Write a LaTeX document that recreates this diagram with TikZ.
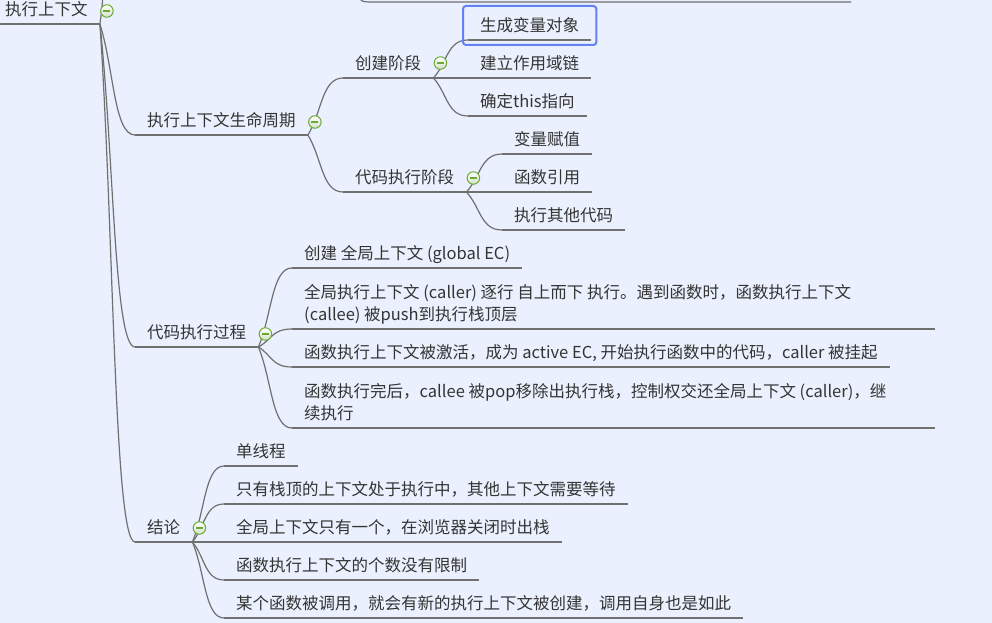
\documentclass[tikz,border=0pt]{standalone}
\usepackage{fontspec}
\setmainfont{Noto Sans CJK SC}
\usetikzlibrary{calc}
\definecolor{paper}{RGB}{234,240,253}
\definecolor{ink}{RGB}{52,52,52}
\definecolor{wire}{RGB}{112,112,112}
\definecolor{togglegreen}{RGB}{104,170,52}
\definecolor{togglefill}{RGB}{212,224,200}
\definecolor{pickblue}{RGB}{100,128,245}

\begin{document}
\begin{tikzpicture}[x=1pt, y=-1pt]
        \tikzstyle{topic} = [anchor=south west, inner xsep=12pt, inner ysep=4pt, text depth=4pt, text=ink, font=\fontsize{16.5}{22}\selectfont, append after command={(\tikzlastnode.south west) edge[draw=wire, line width=1.2pt] (\tikzlastnode.south east)}]
        \tikzstyle{branch} = [draw=wire, line width=1.2pt, to path={.. controls ($(\tikztostart)!0.4!(\tikztotarget)$) and ($(\tikztotarget)!0.6!(\tikztotarget -| \tikztostart)$) .. (\tikztotarget)}]
        \tikzstyle{toggle} = [shape=circle, minimum size=12.5pt, inner sep=0pt, draw=togglegreen, line width=1pt, top color=white, bottom color=togglefill, path picture={\draw[togglegreen, line width=1.3pt] ([xshift=-3.5pt]path picture bounding box.center) -- ([xshift=3.5pt]path picture bounding box.center);}]
        \tikzstyle{pick} = [draw=pickblue, line width=2pt, rounded corners=3pt]
        \fill[paper] (0,0) rectangle (992,623);
        \useasboundingbox (0,0) rectangle (992,623);
        \clip (0,0) rectangle (992,623);
        % topics
        \node[topic] (root) at (-7,24) {执行上下文};
        \node[topic] (life) at (135,135) {执行上下文生命周期};
        \node[topic] (flow) at (135,347) {代码执行过程};
        \node[topic] (sum) at (135,542) {结论};
        \node[topic] (create) at (343,78) {创建阶段};
        \node[topic] (exec) at (343,192) {代码执行阶段};
        \node[topic] (vo) at (468,40) {生成变量对象};
        \node[topic] (scope) at (468,78) {建立作用域链};
        \node[topic] (this) at (468,116) {确定this指向};
        \node[topic] (assign) at (502,154) {变量赋值};
        \node[topic] (fnref) at (502,192) {函数引用};
        \node[topic] (other) at (502,230) {执行其他代码};
        \node[topic] (global) at (292,268) {创建 全局上下文 (global EC)};
        \node[topic] (push) at (292,329) {\makebox[619pt][l]{\begin{tabular}[b]{@{}l@{}}全局执行上下文 (caller) 逐行 自上而下 执行。遇到函数时，函数执行上下文\\(callee) 被push到执行栈顶层\end{tabular}}};
        \node[topic] (active) at (292,367) {函数执行上下文被激活，成为 active EC, 开始执行函数中的代码，caller 被挂起};
        \node[topic] (pop) at (292,428) {\makebox[619pt][l]{\begin{tabular}[b]{@{}l@{}}函数执行完后，callee 被pop移除出执行栈，控制权交还全局上下文 (caller)，继\\续执行\end{tabular}}};
        \node[topic] (single) at (224,466) {单线程};
        \node[topic] (stacktop) at (224,504) {只有栈顶的上下文处于执行中，其他上下文需要等待};
        \node[topic] (onlyone) at (224,542) {全局上下文只有一个，在浏览器关闭时出栈};
        \node[topic] (nolimit) at (224,580) {函数执行上下文的个数没有限制};
        \node[topic] (newec) at (224,618) {某个函数被调用，就会有新的执行上下文被创建，调用自身也是如此};
        % cut off at the top
        \coordinate (root-up) at (110,-40);
        \coordinate (prev-a) at (356,-14);
        \coordinate (prev-b) at (851,2);
        \draw[draw=wire, line width=1.2pt] (prev-a) .. controls (360,2) .. (372,2) -- (prev-b);
        % connectors
        \draw[branch] (root.south east) to (root-up);
        \draw[branch] (root.south east) to (life.south west);
        \draw[branch] (root.south east) to (flow.south west);
        \draw[branch] (root.south east) to (sum.south west);
        \draw[branch] (life.south east) to (create.south west);
        \draw[branch] (life.south east) to (exec.south west);
        \draw[branch] (create.south east) to (vo.south west);
        \draw[branch] (create.south east) to (scope.south west);
        \draw[branch] (create.south east) to (this.south west);
        \draw[branch] (exec.south east) to (assign.south west);
        \draw[branch] (exec.south east) to (fnref.south west);
        \draw[branch] (exec.south east) to (other.south west);
        \draw[branch] (flow.south east) to (global.south west);
        \draw[branch] (flow.south east) to (push.south west);
        \draw[branch] (flow.south east) to (active.south west);
        \draw[branch] (flow.south east) to (pop.south west);
        \draw[branch] (sum.south east) to (single.south west);
        \draw[branch] (sum.south east) to (stacktop.south west);
        \draw[branch] (sum.south east) to (onlyone.south west);
        \draw[branch] (sum.south east) to (nolimit.south west);
        \draw[branch] (sum.south east) to (newec.south west);
        % collapse buttons
        \node[toggle] (root-t) at ([xshift=7pt,yshift=13pt]root.south east) {};
        \node[toggle] (life-t) at ([xshift=7pt,yshift=13pt]life.south east) {};
        \node[toggle] (flow-t) at ([xshift=7pt,yshift=13pt]flow.south east) {};
        \node[toggle] (sum-t) at ([xshift=7pt,yshift=14pt]sum.south east) {};
        \node[toggle] (create-t) at ([xshift=7pt,yshift=15pt]create.south east) {};
        \node[toggle] (exec-t) at ([xshift=7pt,yshift=14pt]exec.south east) {};
        % selected topic
        \draw[pick] ([xshift=-5pt,yshift=-5pt]vo.south west) rectangle ([xshift=5pt,yshift=34pt]vo.south east);
\end{tikzpicture}
\end{document}
